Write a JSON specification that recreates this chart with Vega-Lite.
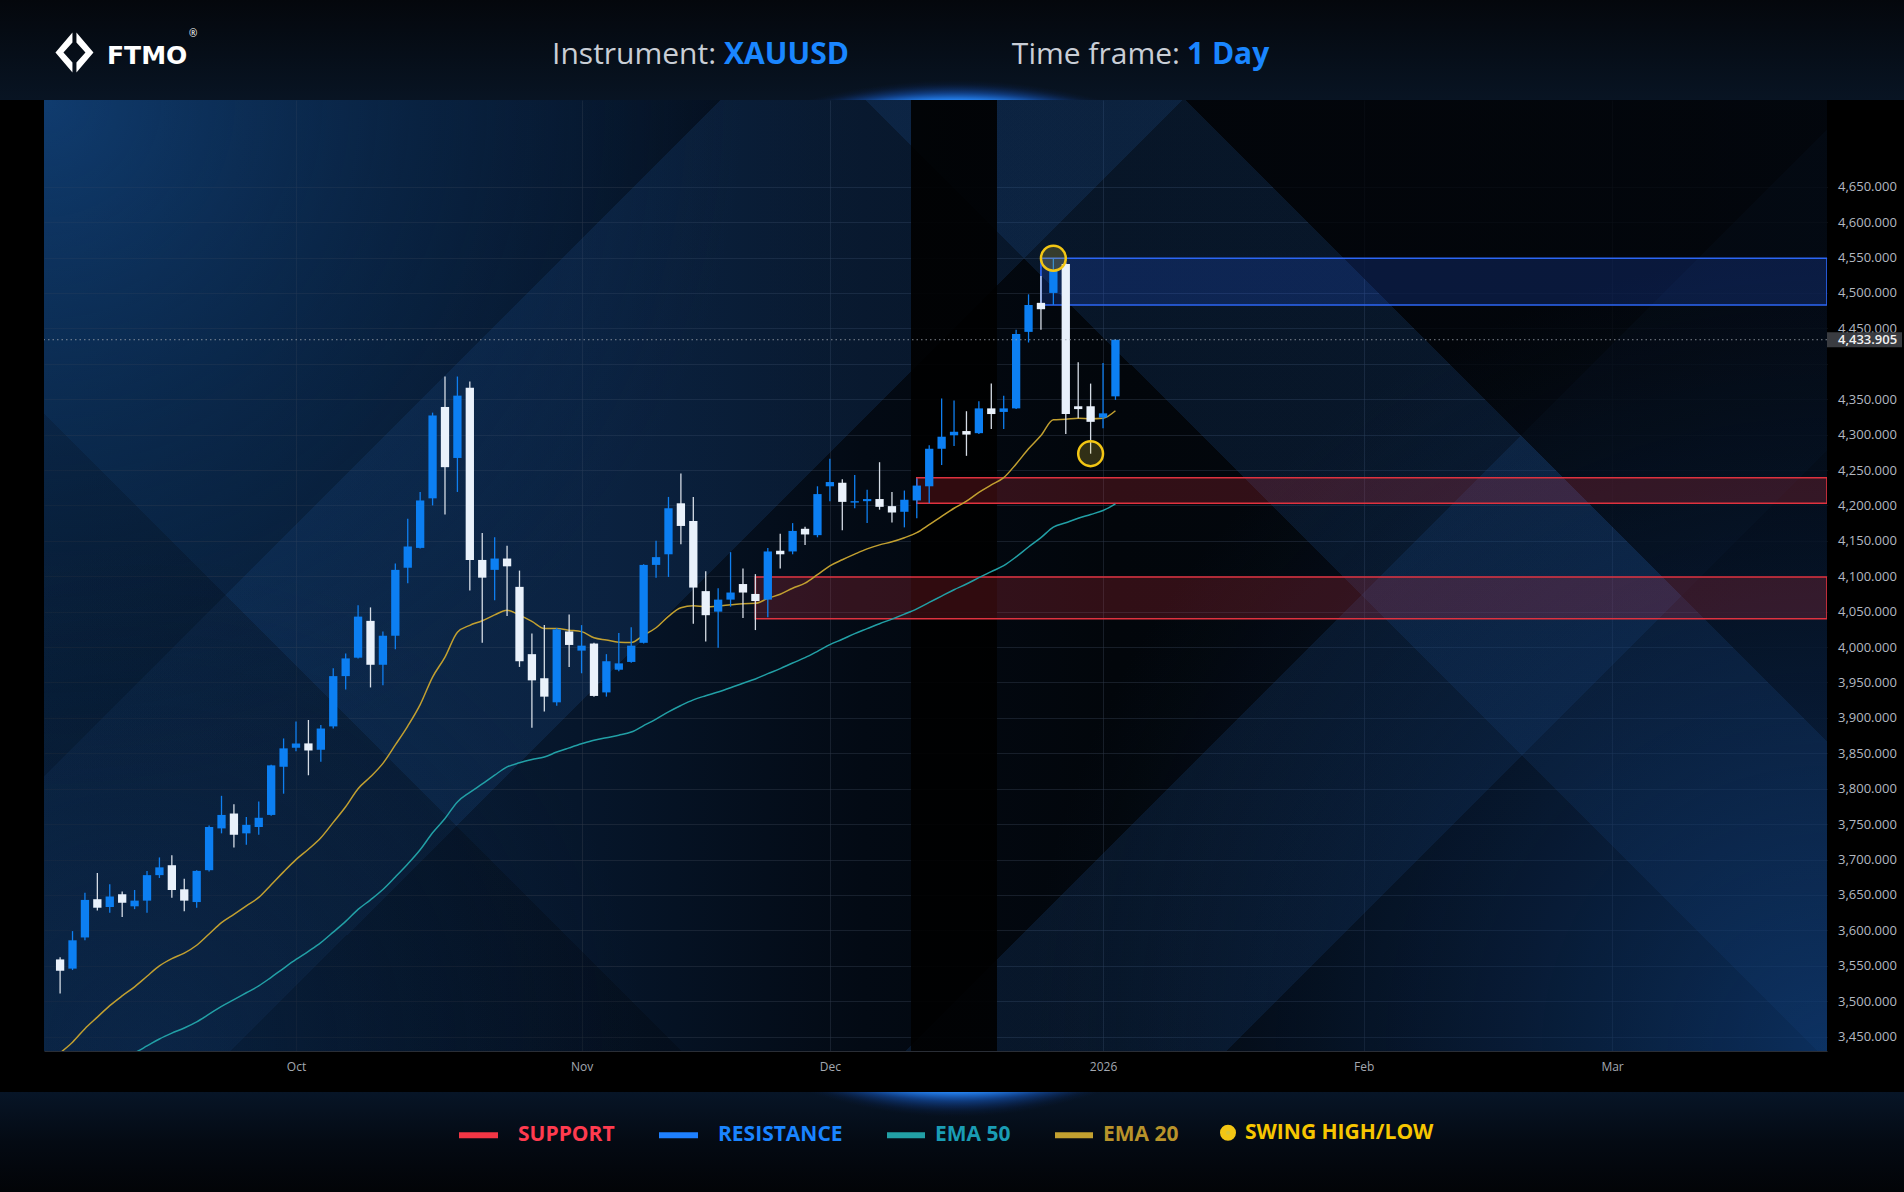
{
  "$schema": "https://vega.github.io/schema/vega-lite/v6.json",
  "background": "#000000",
  "padding": 0,
  "spacing": 0,
  "config": {
    "view": {"stroke": null},
    "text": {"font": "Open Sans"}
  },
  "datasets": {
    "panel": [{}],
    "candles": [
      {"date": "2025-09-04", "i": 0, "open": 3559, "high": 3562, "low": 3511, "close": 3543, "ema20": 3427},
      {"date": "2025-09-05", "i": 1, "open": 3546, "high": 3599, "low": 3544, "close": 3586, "ema20": 3442.1},
      {"date": "2025-09-08", "i": 2, "open": 3590, "high": 3653, "low": 3586, "close": 3643, "ema20": 3461.2},
      {"date": "2025-09-09", "i": 3, "open": 3644, "high": 3681, "low": 3628, "close": 3632, "ema20": 3477.5},
      {"date": "2025-09-10", "i": 4, "open": 3633, "high": 3665, "low": 3625, "close": 3648, "ema20": 3493.7, "ema50": 3409},
      {"date": "2025-09-11", "i": 5, "open": 3651, "high": 3655, "low": 3619, "close": 3639, "ema20": 3507.5, "ema50": 3418.2},
      {"date": "2025-09-12", "i": 6, "open": 3634, "high": 3657, "low": 3630, "close": 3642, "ema20": 3520.3, "ema50": 3427},
      {"date": "2025-09-15", "i": 7, "open": 3642, "high": 3684, "low": 3625, "close": 3678, "ema20": 3535.3, "ema50": 3436.8},
      {"date": "2025-09-16", "i": 8, "open": 3678, "high": 3703, "low": 3674, "close": 3689, "ema20": 3549.9, "ema50": 3446.7},
      {"date": "2025-09-17", "i": 9, "open": 3692, "high": 3706, "low": 3646, "close": 3657, "ema20": 3560.1, "ema50": 3454.9},
      {"date": "2025-09-18", "i": 10, "open": 3658, "high": 3673, "low": 3627, "close": 3642, "ema20": 3567.9, "ema50": 3462.2},
      {"date": "2025-09-19", "i": 11, "open": 3640, "high": 3685, "low": 3632, "close": 3684, "ema20": 3579.0, "ema50": 3470.9},
      {"date": "2025-09-22", "i": 12, "open": 3685, "high": 3748, "low": 3683, "close": 3746, "ema20": 3594.9, "ema50": 3481.7},
      {"date": "2025-09-23", "i": 13, "open": 3744, "high": 3790, "low": 3737, "close": 3763, "ema20": 3610.9, "ema50": 3492.7},
      {"date": "2025-09-24", "i": 14, "open": 3765, "high": 3778, "low": 3717, "close": 3735, "ema20": 3622.7, "ema50": 3502.2},
      {"date": "2025-09-25", "i": 15, "open": 3737, "high": 3760, "low": 3721, "close": 3749, "ema20": 3634.7, "ema50": 3511.9},
      {"date": "2025-09-26", "i": 16, "open": 3746, "high": 3782, "low": 3735, "close": 3759, "ema20": 3646.5, "ema50": 3521.6},
      {"date": "2025-09-29", "i": 17, "open": 3763, "high": 3834, "low": 3762, "close": 3833, "ema20": 3664.3, "ema50": 3533.8},
      {"date": "2025-09-30", "i": 18, "open": 3831, "high": 3871, "low": 3793, "close": 3857, "ema20": 3682.6, "ema50": 3546.5},
      {"date": "2025-10-01", "i": 19, "open": 3858, "high": 3895, "low": 3853, "close": 3864, "ema20": 3699.9, "ema50": 3558.9},
      {"date": "2025-10-02", "i": 20, "open": 3864, "high": 3897, "low": 3819, "close": 3854, "ema20": 3714.6, "ema50": 3570.5},
      {"date": "2025-10-03", "i": 21, "open": 3855, "high": 3890, "low": 3838, "close": 3885, "ema20": 3730.8, "ema50": 3582.8},
      {"date": "2025-10-06", "i": 22, "open": 3888, "high": 3970, "low": 3885, "close": 3959, "ema20": 3752.5, "ema50": 3597.5},
      {"date": "2025-10-07", "i": 23, "open": 3959, "high": 3991, "low": 3940, "close": 3984, "ema20": 3774.5, "ema50": 3612.7},
      {"date": "2025-10-08", "i": 24, "open": 3985, "high": 4059, "low": 3984, "close": 4043, "ema20": 3800.1, "ema50": 3629.6},
      {"date": "2025-10-09", "i": 25, "open": 4037, "high": 4056, "low": 3943, "close": 3975, "ema20": 3816.8, "ema50": 3643.1},
      {"date": "2025-10-10", "i": 26, "open": 3975, "high": 4022, "low": 3946, "close": 4016, "ema20": 3835.8, "ema50": 3657.7},
      {"date": "2025-10-13", "i": 27, "open": 4016, "high": 4118, "low": 3997, "close": 4109, "ema20": 3861.8, "ema50": 3675.4},
      {"date": "2025-10-14", "i": 28, "open": 4112, "high": 4181, "low": 4090, "close": 4142, "ema20": 3888.5, "ema50": 3693.7},
      {"date": "2025-10-15", "i": 29, "open": 4140, "high": 4219, "low": 4139, "close": 4207, "ema20": 3918.8, "ema50": 3713.8},
      {"date": "2025-10-16", "i": 30, "open": 4210, "high": 4331, "low": 4200, "close": 4327, "ema20": 3957.7, "ema50": 3737.8},
      {"date": "2025-10-17", "i": 31, "open": 4339, "high": 4382, "low": 4187, "close": 4254, "ema20": 3985.9, "ema50": 3758.0},
      {"date": "2025-10-20", "i": 32, "open": 4267, "high": 4382, "low": 4219, "close": 4355, "ema20": 4021.0, "ema50": 3781.4},
      {"date": "2025-10-21", "i": 33, "open": 4366, "high": 4375, "low": 4080, "close": 4123, "ema20": 4030.7, "ema50": 3794.8},
      {"date": "2025-10-22", "i": 34, "open": 4123, "high": 4161, "low": 4006, "close": 4098, "ema20": 4037.1, "ema50": 3806.7},
      {"date": "2025-10-23", "i": 35, "open": 4109, "high": 4155, "low": 4066, "close": 4125, "ema20": 4045.5, "ema50": 3819.2},
      {"date": "2025-10-24", "i": 36, "open": 4125, "high": 4143, "low": 4044, "close": 4114, "ema20": 4052.0, "ema50": 3830.8},
      {"date": "2025-10-27", "i": 37, "open": 4085, "high": 4108, "low": 3972, "close": 3980, "ema20": 4045.1, "ema50": 3836.6},
      {"date": "2025-10-28", "i": 38, "open": 3990, "high": 4019, "low": 3886, "close": 3953, "ema20": 4036.3, "ema50": 3841.2},
      {"date": "2025-10-29", "i": 39, "open": 3956, "high": 4031, "low": 3909, "close": 3930, "ema20": 4026.2, "ema50": 3844.7},
      {"date": "2025-10-30", "i": 40, "open": 3922, "high": 4027, "low": 3917, "close": 4025, "ema20": 4026.1, "ema50": 3851.8},
      {"date": "2025-10-31", "i": 41, "open": 4022, "high": 4046, "low": 3972, "close": 4003, "ema20": 4023.9, "ema50": 3857.7},
      {"date": "2025-11-03", "i": 42, "open": 3995, "high": 4031, "low": 3963, "close": 4002, "ema20": 4021.8, "ema50": 3863.4},
      {"date": "2025-11-04", "i": 43, "open": 4005, "high": 4006, "low": 3930, "close": 3931, "ema20": 4013.2, "ema50": 3868.5},
      {"date": "2025-11-05", "i": 44, "open": 3936, "high": 3990, "low": 3930, "close": 3980, "ema20": 4010.0, "ema50": 3872.0},
      {"date": "2025-11-06", "i": 45, "open": 3968, "high": 4020, "low": 3966, "close": 3977, "ema20": 4006.9, "ema50": 3875.5},
      {"date": "2025-11-07", "i": 46, "open": 3979, "high": 4028, "low": 3978, "close": 4002, "ema20": 4006.4, "ema50": 3880.0},
      {"date": "2025-11-10", "i": 47, "open": 4006, "high": 4117, "low": 4005, "close": 4116, "ema20": 4016.8, "ema50": 3889.1},
      {"date": "2025-11-11", "i": 48, "open": 4116, "high": 4150, "low": 4098, "close": 4127, "ema20": 4027.3, "ema50": 3898.4},
      {"date": "2025-11-12", "i": 49, "open": 4131, "high": 4212, "low": 4099, "close": 4196, "ema20": 4043.4, "ema50": 3908.5},
      {"date": "2025-11-13", "i": 50, "open": 4203, "high": 4245, "low": 4145, "close": 4171, "ema20": 4055.5, "ema50": 3917.5},
      {"date": "2025-11-14", "i": 51, "open": 4178, "high": 4212, "low": 4033, "close": 4084, "ema20": 4058.2, "ema50": 3925.5},
      {"date": "2025-11-17", "i": 52, "open": 4079, "high": 4107, "low": 4008, "close": 4045, "ema20": 4056.9, "ema50": 3931.3},
      {"date": "2025-11-18", "i": 53, "open": 4050, "high": 4083, "low": 3999, "close": 4067, "ema20": 4057.9, "ema50": 3936.6},
      {"date": "2025-11-19", "i": 54, "open": 4067, "high": 4134, "low": 4057, "close": 4077, "ema20": 4059.7, "ema50": 3942.6},
      {"date": "2025-11-20", "i": 55, "open": 4089, "high": 4111, "low": 4041, "close": 4077, "ema20": 4061.3, "ema50": 3949.0},
      {"date": "2025-11-21", "i": 56, "open": 4075, "high": 4103, "low": 4024, "close": 4065, "ema20": 4061.7, "ema50": 3955.0},
      {"date": "2025-11-24", "i": 57, "open": 4067, "high": 4140, "low": 4042, "close": 4135, "ema20": 4068.7, "ema50": 3962.5},
      {"date": "2025-11-25", "i": 58, "open": 4136, "high": 4160, "low": 4111, "close": 4131, "ema20": 4074.6, "ema50": 3969.5},
      {"date": "2025-11-26", "i": 59, "open": 4135, "high": 4175, "low": 4131, "close": 4164, "ema20": 4083.1, "ema50": 3977.5},
      {"date": "2025-11-27", "i": 60, "open": 4167, "high": 4170, "low": 4144, "close": 4159, "ema20": 4090.3, "ema50": 3985.0},
      {"date": "2025-11-28", "i": 61, "open": 4158, "high": 4227, "low": 4155, "close": 4216, "ema20": 4102.3, "ema50": 3994.0},
      {"date": "2025-12-01", "i": 62, "open": 4227, "high": 4266, "low": 4206, "close": 4233, "ema20": 4114.7, "ema50": 4003.5},
      {"date": "2025-12-02", "i": 63, "open": 4232, "high": 4237, "low": 4165, "close": 4205, "ema20": 4123.3, "ema50": 4011.0},
      {"date": "2025-12-03", "i": 64, "open": 4204, "high": 4243, "low": 4196, "close": 4206, "ema20": 4131.2, "ema50": 4019.0},
      {"date": "2025-12-04", "i": 65, "open": 4206, "high": 4222, "low": 4175, "close": 4209, "ema20": 4138.6, "ema50": 4026.0},
      {"date": "2025-12-05", "i": 66, "open": 4209, "high": 4261, "low": 4194, "close": 4198, "ema20": 4144.3, "ema50": 4033.0},
      {"date": "2025-12-08", "i": 67, "open": 4199, "high": 4219, "low": 4176, "close": 4190, "ema20": 4148.6, "ema50": 4039.5},
      {"date": "2025-12-09", "i": 68, "open": 4191, "high": 4221, "low": 4169, "close": 4208, "ema20": 4154.4, "ema50": 4046.5},
      {"date": "2025-12-10", "i": 69, "open": 4207, "high": 4238, "low": 4182, "close": 4228, "ema20": 4161.5, "ema50": 4054.0},
      {"date": "2025-12-11", "i": 70, "open": 4227, "high": 4285, "low": 4203, "close": 4280, "ema20": 4172.8, "ema50": 4063.0},
      {"date": "2025-12-12", "i": 71, "open": 4280, "high": 4351, "low": 4257, "close": 4297, "ema20": 4184.6, "ema50": 4072.0},
      {"date": "2025-12-15", "i": 72, "open": 4299, "high": 4348, "low": 4284, "close": 4304, "ema20": 4196.0, "ema50": 4081.0},
      {"date": "2025-12-16", "i": 73, "open": 4305, "high": 4333, "low": 4270, "close": 4300, "ema20": 4205.9, "ema50": 4089.0},
      {"date": "2025-12-17", "i": 74, "open": 4302, "high": 4347, "low": 4301, "close": 4337, "ema20": 4218.4, "ema50": 4098.0},
      {"date": "2025-12-18", "i": 75, "open": 4337, "high": 4372, "low": 4308, "close": 4329, "ema20": 4228.9, "ema50": 4106.5},
      {"date": "2025-12-19", "i": 76, "open": 4332, "high": 4355, "low": 4308, "close": 4337, "ema20": 4239.2, "ema50": 4115.0},
      {"date": "2025-12-22", "i": 77, "open": 4337, "high": 4448, "low": 4336, "close": 4442, "ema20": 4258.5, "ema50": 4127.4},
      {"date": "2025-12-23", "i": 78, "open": 4445, "high": 4498, "low": 4430, "close": 4483, "ema20": 4279.9, "ema50": 4141.3},
      {"date": "2025-12-24", "i": 79, "open": 4486, "high": 4524, "low": 4448, "close": 4477, "ema20": 4298.7, "ema50": 4154.5},
      {"date": "2025-12-26", "i": 80, "open": 4500, "high": 4549, "low": 4483, "close": 4531, "ema20": 4320.8, "ema50": 4169.3},
      {"date": "2025-12-29", "i": 81, "open": 4541, "high": 4543, "low": 4301, "close": 4329, "ema20": 4321.6, "ema50": 4175.6},
      {"date": "2025-12-30", "i": 82, "open": 4340, "high": 4402, "low": 4323, "close": 4336, "ema20": 4323.0, "ema50": 4181.9},
      {"date": "2025-12-31", "i": 83, "open": 4340, "high": 4372, "low": 4273, "close": 4318, "ema20": 4322.5, "ema50": 4187.2},
      {"date": "2026-01-02", "i": 84, "open": 4324, "high": 4401, "low": 4309, "close": 4330, "ema20": 4323.2, "ema50": 4192.8},
      {"date": "2026-01-05", "i": 85, "open": 4354, "high": 4434, "low": 4349, "close": 4433.905, "ema20": 4333.7, "ema50": 4202.3}
    ],
    "zones": [
      {"kind": "SUPPORT", "start": 56, "lo": 4040, "hi": 4099},
      {"kind": "SUPPORT", "start": 69, "lo": 4203, "hi": 4239},
      {"kind": "RESISTANCE", "start": 79, "lo": 4483, "hi": 4549}
    ],
    "swings": [
      {"kind": "SWING HIGH/LOW", "i": 80, "price": 4549},
      {"kind": "SWING HIGH/LOW", "i": 83, "price": 4273}
    ]
  },
  "vconcat": [
    {
      "width": 1904,
      "height": 100,
      "data": {"name": "panel"},
      "layer": [
        {
          "mark": {"type": "rect", "color": {"gradient": "linear", "x1": 0, "y1": 0, "x2": 0, "y2": 1, "stops": [{"offset": 0, "color": "#04070c"}, {"offset": 1, "color": "#081423"}]}},
          "encoding": {}
        },
        {
          "mark": {"type": "rect", "color": {"gradient": "radial", "x1": 0.5016, "y1": 0.8099, "r1": 0, "x2": 0.5016, "y2": 0.8099, "r2": 0.2941, "stops": [{"offset": 0, "color": "rgba(40,140,255,1)"}, {"offset": 0.964, "color": "rgba(40,140,255,0.95)"}, {"offset": 0.978, "color": "rgba(25,105,230,0.45)"}, {"offset": 0.992, "color": "rgba(15,60,150,0.12)"}, {"offset": 1, "color": "rgba(10,40,100,0)"}]}},
          "encoding": {}
        },
        {
          "mark": {"type": "point", "shape": "M2,-20L19,0L2,20L2,10L11,0L2,-10ZM-2,-20L-19,0L-2,20L-2,10L-11,0L-2,-10Z", "size": 4, "filled": true, "color": "#ffffff", "opacity": 1, "yOffset": 2.5},
          "encoding": {"x": {"datum": 0.0391, "type": "quantitative", "scale": {"domain": [0, 1]}, "axis": null}}
        },
        {
          "mark": {"type": "text", "text": "FTMO", "align": "left", "baseline": "alphabetic", "dy": 13.5, "font": "DejaVu Sans", "fontSize": 25, "fontWeight": "bold", "color": "#ffffff"},
          "encoding": {"x": {"datum": 0.0562, "type": "quantitative", "scale": {"domain": [0, 1]}, "axis": null}}
        },
        {
          "mark": {"type": "text", "text": "®", "align": "center", "baseline": "middle", "dy": -16, "fontSize": 10, "color": "#ffffff"},
          "encoding": {"x": {"datum": 0.1015, "type": "quantitative", "scale": {"domain": [0, 1]}, "axis": null}}
        },
        {
          "mark": {"type": "text", "text": "Instrument:", "align": "right", "baseline": "alphabetic", "dy": 14, "fontSize": 30, "color": "#c9ced6"},
          "encoding": {"x": {"datum": 0.3761, "type": "quantitative", "scale": {"domain": [0, 1]}, "axis": null}}
        },
        {
          "mark": {"type": "text", "text": "XAUUSD", "align": "left", "baseline": "alphabetic", "dy": 14, "fontSize": 30, "fontWeight": "bold", "color": "#1a86ff"},
          "encoding": {"x": {"datum": 0.3803, "type": "quantitative", "scale": {"domain": [0, 1]}, "axis": null}}
        },
        {
          "mark": {"type": "text", "text": "Time frame:", "align": "right", "baseline": "alphabetic", "dy": 14, "fontSize": 30, "color": "#c9ced6"},
          "encoding": {"x": {"datum": 0.6197, "type": "quantitative", "scale": {"domain": [0, 1]}, "axis": null}}
        },
        {
          "mark": {"type": "text", "text": "1 Day", "align": "left", "baseline": "alphabetic", "dy": 14, "fontSize": 30, "fontWeight": "bold", "color": "#1a86ff"},
          "encoding": {"x": {"datum": 0.6234, "type": "quantitative", "scale": {"domain": [0, 1]}, "axis": null}}
        }
      ]
    },
    {
      "spacing": 0,
      "hconcat": [
        {
          "width": 43,
          "height": 951,
          "data": {"name": "panel"},
          "mark": {"type": "rect", "color": "#000000"},
          "encoding": {}
        },
        {
          "width": 1783,
          "height": 951,
          "view": {"stroke": null, "fill": {"gradient": "linear", "x1": 0, "y1": 0, "x2": 1, "y2": 0, "stops": [{"offset": 0, "color": "#092442"}, {"offset": 0.3, "color": "#06162b"}, {"offset": 0.46, "color": "#030a14"}, {"offset": 0.6, "color": "#02060b"}, {"offset": 0.85, "color": "#03080f"}, {"offset": 1, "color": "#040b16"}]}},
          "resolve": {"axis": {"x": "independent", "y": "independent"}},
          "layer": [
            {
              "data": {"name": "panel"},
              "mark": {"type": "rect", "color": {"gradient": "linear", "x1": 0, "y1": 0, "x2": 1, "y2": 0.5334, "stops": [{"offset": 0, "color": "rgba(30,85,155,0)"}, {"offset": 0.2954, "color": "rgba(30,85,155,0)"}, {"offset": 0.2954, "color": "rgba(30,85,155,0.2)"}, {"offset": 0.4969, "color": "rgba(30,85,155,0.2)"}, {"offset": 0.4969, "color": "rgba(30,85,155,0)"}, {"offset": 1, "color": "rgba(30,85,155,0)"}]}},
              "encoding": {}
            },
            {
              "data": {"name": "panel"},
              "mark": {"type": "rect", "color": {"gradient": "linear", "x1": 0, "y1": 0, "x2": 1, "y2": -0.5334, "stops": [{"offset": 0, "color": "rgba(30,85,155,0)"}, {"offset": 0.3589, "color": "rgba(30,85,155,0)"}, {"offset": 0.3589, "color": "rgba(30,85,155,0.2)"}, {"offset": 0.4982, "color": "rgba(30,85,155,0.2)"}, {"offset": 0.4982, "color": "rgba(30,85,155,0)"}, {"offset": 1, "color": "rgba(30,85,155,0)"}]}},
              "encoding": {}
            },
            {
              "data": {"name": "panel"},
              "mark": {"type": "rect", "color": {"gradient": "linear", "x1": 0, "y1": 0, "x2": 1, "y2": 0.5334, "stops": [{"offset": 0, "color": "rgba(30,85,155,0)"}, {"offset": 0.7912, "color": "rgba(30,85,155,0)"}, {"offset": 0.7912, "color": "rgba(30,85,155,0.2)"}, {"offset": 0.9317, "color": "rgba(30,85,155,0.2)"}, {"offset": 0.9317, "color": "rgba(30,85,155,0)"}, {"offset": 1, "color": "rgba(30,85,155,0)"}]}},
              "encoding": {}
            },
            {
              "data": {"name": "panel"},
              "mark": {"type": "rect", "color": {"gradient": "linear", "x1": 0, "y1": 0, "x2": 1, "y2": -0.5334, "stops": [{"offset": 0, "color": "rgba(2,5,10,0)"}, {"offset": 0.4982, "color": "rgba(2,5,10,0)"}, {"offset": 0.4982, "color": "rgba(2,5,10,0.78)"}, {"offset": 1, "color": "rgba(2,5,10,0.78)"}]}},
              "encoding": {}
            },
            {
              "data": {"name": "panel"},
              "mark": {"type": "rect", "color": {"gradient": "linear", "x1": -0.5, "y1": 0, "x2": 0.5, "y2": -0.5334, "stops": [{"offset": 0, "color": "rgba(2,6,12,0.3)"}, {"offset": 0.2524, "color": "rgba(2,6,12,0.3)"}, {"offset": 0.2524, "color": "rgba(2,6,12,0)"}, {"offset": 1, "color": "rgba(2,6,12,0)"}]}},
              "encoding": {}
            },
            {
              "data": {"name": "panel"},
              "mark": {"type": "rect", "color": {"gradient": "radial", "x1": 0, "y1": 0.2333, "r1": 0, "x2": 0, "y2": 0.2333, "r2": 0.3926, "stops": [{"offset": 0, "color": "rgba(20,75,140,0.6)"}, {"offset": 0.5, "color": "rgba(14,55,105,0.3)"}, {"offset": 1, "color": "rgba(10,40,80,0)"}]}},
              "encoding": {}
            },
            {
              "data": {"name": "panel"},
              "mark": {"type": "rect", "color": {"gradient": "radial", "x1": 0.0561, "y1": 0.7667, "r1": 0, "x2": 0.0561, "y2": 0.7667, "r2": 0.2804, "stops": [{"offset": 0, "color": "rgba(12,45,90,0.35)"}, {"offset": 1, "color": "rgba(10,35,70,0)"}]}},
              "encoding": {}
            },
            {
              "data": {"name": "panel"},
              "mark": {"type": "rect", "color": {"gradient": "radial", "x1": 1, "y1": 0.7667, "r1": 0, "x2": 1, "y2": 0.7667, "r2": 0.4487, "stops": [{"offset": 0, "color": "rgba(14,58,115,0.75)"}, {"offset": 0.5, "color": "rgba(12,45,90,0.4)"}, {"offset": 1, "color": "rgba(10,35,70,0)"}]}},
              "encoding": {}
            },
            {
              "data": {"name": "panel"},
              "mark": {"type": "rect", "color": {"gradient": "linear", "x1": 0, "y1": 0, "x2": 1, "y2": 0, "stops": [{"offset": 0, "color": "rgba(0,0,0,0)"}, {"offset": 0.486, "color": "rgba(0,0,0,0)"}, {"offset": 0.486, "color": "rgba(0,0,0,0.9)"}, {"offset": 0.5343, "color": "rgba(0,0,0,0.9)"}, {"offset": 0.5343, "color": "rgba(0,0,0,0)"}, {"offset": 1, "color": "rgba(0,0,0,0)"}]}},
              "encoding": {}
            },
            {
              "data": {"name": "zones"},
              "mark": {"type": "rect", "fillOpacity": 0.2, "strokeWidth": 1.6, "clip": true},
              "encoding": {
                "x": {"field": "start", "type": "quantitative", "scale": {"domain": [-1.2967, 142.31], "nice": false, "zero": false, "padding": 0}, "axis": null},
                "x2": {"value": "width"},
                "y": {"field": "hi", "type": "quantitative", "scale": {"domain": [3429.7, 4772.4], "nice": false, "zero": false}, "axis": null},
                "y2": {"field": "lo"},
                "fill": {"field": "kind", "type": "nominal", "scale": {"domain": ["SUPPORT", "RESISTANCE"], "range": ["#f23645", "#2962ff"]}, "legend": null},
                "stroke": {"field": "kind", "type": "nominal", "scale": {"domain": ["SUPPORT", "RESISTANCE"], "range": ["#e0323f", "#2c66f5"]}, "legend": null}
              }
            },
            {
              "data": {"name": "candles"},
              "mark": {"type": "line", "strokeWidth": 1.5, "clip": true, "interpolate": "monotone"},
              "encoding": {
                "x": {"field": "i", "type": "quantitative", "scale": {"domain": [-1.2967, 142.31], "nice": false, "zero": false, "padding": 0}, "axis": null},
                "y": {"field": "ema50", "type": "quantitative", "scale": {"domain": [3429.7, 4772.4], "nice": false, "zero": false}, "axis": null},
                "color": {
                  "datum": "EMA 50", "type": "nominal",
                  "scale": {"domain": ["SUPPORT", "RESISTANCE", "EMA 50", "EMA 20", "SWING HIGH/LOW"], "range": ["#f23645", "#1e80ff", "#22a0a6", "#c2a030", "#f3c614"]},
                  "legend": {
                    "title": null, "orient": "none", "legendX": 490.5, "legendY": 1122, "direction": "horizontal",
                    "columnPadding": 31, "padding": 0, "symbolSize": 4, "symbolStrokeWidth": 6, "symbolOpacity": 1,
                    "symbolType": {"expr": "datum.label == 'SWING HIGH/LOW' ? 'M-5,0A5,5 0 1,1 5,0A5,5 0 1,1 -5,0Z' : (datum.label == 'EMA 50' || datum.label == 'EMA 20') ? 'M-31,0L7,0' : 'M-42,0L-3,0'"},
                    "labelColor": {"expr": "datum.label == 'SUPPORT' ? '#ff3b4f' : datum.label == 'RESISTANCE' ? '#1a84ff' : datum.label == 'EMA 50' ? '#1a9cb4' : datum.label == 'EMA 20' ? '#b8932a' : '#f7c600'"},
                    "labelFont": "Open Sans", "labelFontSize": 21, "labelFontWeight": "bold", "labelOffset": 6.5, "labelLimit": 400
                  }
                }
              }
            },
            {
              "data": {"name": "candles"},
              "mark": {"type": "line", "strokeWidth": 1.5, "clip": true, "interpolate": "monotone"},
              "encoding": {
                "x": {"field": "i", "type": "quantitative", "scale": {"domain": [-1.2967, 142.31], "nice": false, "zero": false, "padding": 0}, "axis": null},
                "y": {"field": "ema20", "type": "quantitative", "scale": {"domain": [3429.7, 4772.4], "nice": false, "zero": false}, "axis": null},
                "color": {
                  "datum": "EMA 20", "type": "nominal",
                  "scale": {"domain": ["SUPPORT", "RESISTANCE", "EMA 50", "EMA 20", "SWING HIGH/LOW"], "range": ["#f23645", "#1e80ff", "#22a0a6", "#c2a030", "#f3c614"]},
                  "legend": {
                    "title": null, "orient": "none", "legendX": 490.5, "legendY": 1122, "direction": "horizontal",
                    "columnPadding": 31, "padding": 0, "symbolSize": 4, "symbolStrokeWidth": 6, "symbolOpacity": 1,
                    "symbolType": {"expr": "datum.label == 'SWING HIGH/LOW' ? 'M-5,0A5,5 0 1,1 5,0A5,5 0 1,1 -5,0Z' : (datum.label == 'EMA 50' || datum.label == 'EMA 20') ? 'M-31,0L7,0' : 'M-42,0L-3,0'"},
                    "labelColor": {"expr": "datum.label == 'SUPPORT' ? '#ff3b4f' : datum.label == 'RESISTANCE' ? '#1a84ff' : datum.label == 'EMA 50' ? '#1a9cb4' : datum.label == 'EMA 20' ? '#b8932a' : '#f7c600'"},
                    "labelFont": "Open Sans", "labelFontSize": 21, "labelFontWeight": "bold", "labelOffset": 6.5, "labelLimit": 400
                  }
                }
              }
            },
            {
              "data": {"name": "candles"},
              "mark": {"type": "rule", "strokeWidth": 1.3},
              "encoding": {
                "x": {"field": "i", "type": "quantitative", "scale": {"domain": [-1.2967, 142.31], "nice": false, "zero": false, "padding": 0}, "axis": null},
                "y": {"field": "low", "type": "quantitative", "scale": {"domain": [3429.7, 4772.4], "nice": false, "zero": false}, "axis": null},
                "y2": {"field": "high"},
                "stroke": {"condition": {"test": "datum.close >= datum.open", "value": "#0f7ff0"}, "value": "#d5dce5"}
              }
            },
            {
              "data": {"name": "candles"},
              "mark": {"type": "bar", "width": 8.3},
              "encoding": {
                "x": {"field": "i", "type": "quantitative", "scale": {"domain": [-1.2967, 142.31], "nice": false, "zero": false, "padding": 0},
                      "axis": {"values": [19, 42, 62, 84, 105, 125],
                               "labelExpr": "datum.value == 19 ? 'Oct' : datum.value == 42 ? 'Nov' : datum.value == 62 ? 'Dec' : datum.value == 84 ? '2026' : datum.value == 105 ? 'Feb' : 'Mar'",
                               "title": null, "grid": true, "gridColor": "#2b3546", "gridOpacity": 0.5, "ticks": false,
                               "domain": true, "domainColor": "#2a2e36", "labelColor": "#a3a8b1", "labelFont": "Open Sans",
                               "labelFontSize": 12, "labelPadding": 10, "labelFlush": false, "minExtent": 41, "maxExtent": 41}},
                "y": {"field": "open", "type": "quantitative", "scale": {"domain": [3429.7, 4772.4], "nice": false, "zero": false},
                      "axis": {"orient": "right", "values": [3450, 3500, 3550, 3600, 3650, 3700, 3750, 3800, 3850, 3900, 3950, 4000, 4050, 4100, 4150, 4200, 4250, 4300, 4350, 4400, 4450, 4500, 4550, 4600, 4650],
                               "labelExpr": "datum.value == 4400 ? '' : format(datum.value, ',.3f')",
                               "title": null, "grid": true, "gridColor": "#2b3546", "gridOpacity": 0.5, "ticks": false, "domain": false,
                               "labelColor": "#b3b8c0", "labelFont": "Open Sans", "labelFontSize": 13, "labelPadding": 10.5,
                               "labelOverlap": false, "labelFlush": false, "minExtent": 78, "maxExtent": 78}},
                "y2": {"field": "close"},
                "fill": {"condition": {"test": "datum.close >= datum.open", "value": "#0c7ff2"}, "value": "#e9f1fb"}
              }
            },
            {
              "data": {"name": "candles"},
              "transform": [{"filter": "datum.i == 85"}],
              "mark": {"type": "rule", "strokeDash": [1.5, 3], "strokeWidth": 1, "color": "#a3a8b0", "opacity": 0.8},
              "encoding": {
                "y": {"field": "close", "type": "quantitative", "scale": {"domain": [3429.7, 4772.4], "nice": false, "zero": false}, "axis": null}
              }
            },
            {
              "data": {"name": "swings"},
              "mark": {"type": "point", "size": 616, "strokeWidth": 2.5, "filled": false, "fill": "#d9c63a", "fillOpacity": 0.22, "opacity": 1},
              "encoding": {
                "x": {"field": "i", "type": "quantitative", "scale": {"domain": [-1.2967, 142.31], "nice": false, "zero": false, "padding": 0}, "axis": null},
                "y": {"field": "price", "type": "quantitative", "scale": {"domain": [3429.7, 4772.4], "nice": false, "zero": false}, "axis": null},
                "color": {
                  "field": "kind", "type": "nominal",
                  "scale": {"domain": ["SUPPORT", "RESISTANCE", "EMA 50", "EMA 20", "SWING HIGH/LOW"], "range": ["#f23645", "#1e80ff", "#22a0a6", "#c2a030", "#f3c614"]},
                  "legend": {
                    "title": null, "orient": "none", "legendX": 490.5, "legendY": 1122, "direction": "horizontal",
                    "columnPadding": 31, "padding": 0, "symbolSize": 4, "symbolStrokeWidth": 6, "symbolOpacity": 1,
                    "symbolType": {"expr": "datum.label == 'SWING HIGH/LOW' ? 'M-5,0A5,5 0 1,1 5,0A5,5 0 1,1 -5,0Z' : (datum.label == 'EMA 50' || datum.label == 'EMA 20') ? 'M-31,0L7,0' : 'M-42,0L-3,0'"},
                    "labelColor": {"expr": "datum.label == 'SUPPORT' ? '#ff3b4f' : datum.label == 'RESISTANCE' ? '#1a84ff' : datum.label == 'EMA 50' ? '#1a9cb4' : datum.label == 'EMA 20' ? '#b8932a' : '#f7c600'"},
                    "labelFont": "Open Sans", "labelFontSize": 21, "labelFontWeight": "bold", "labelOffset": 6.5, "labelLimit": 400
                  }
                }
              }
            },
            {
              "data": {"name": "candles"},
              "transform": [{"filter": "datum.i == 85"}],
              "mark": {"type": "point", "shape": "M0,-7.5H75V7.5H0Z", "size": 4, "filled": true, "color": "#3a3c41", "opacity": 1},
              "encoding": {
                "x": {"value": "width"},
                "y": {"field": "close", "type": "quantitative", "scale": {"domain": [3429.7, 4772.4], "nice": false, "zero": false}, "axis": null}
              }
            },
            {
              "data": {"name": "candles"},
              "transform": [{"filter": "datum.i == 85"}],
              "mark": {"type": "text", "align": "left", "baseline": "middle", "dx": 11, "fontSize": 13, "font": "Open Sans", "fontWeight": 600, "color": "#f2f2f2"},
              "encoding": {
                "x": {"value": "width"},
                "y": {"field": "close", "type": "quantitative", "scale": {"domain": [3429.7, 4772.4], "nice": false, "zero": false}, "axis": null},
                "text": {"field": "close", "type": "quantitative", "format": ",.3f"}
              }
            }
          ]
        }
      ]
    },
    {
      "width": 1904,
      "height": 100,
      "data": {"name": "panel"},
      "layer": [
        {
          "mark": {"type": "rect", "color": {"gradient": "linear", "x1": 0, "y1": 0, "x2": 0, "y2": 1, "stops": [{"offset": 0, "color": "#071527"}, {"offset": 0.5, "color": "#040a13"}, {"offset": 1, "color": "#020407"}]}},
          "encoding": {}
        },
        {
          "mark": {"type": "rect", "color": {"gradient": "radial", "x1": 0.5016, "y1": 0.2505, "r1": 0, "x2": 0.5016, "y2": 0.2505, "r2": 0.2363, "stops": [{"offset": 0, "color": "rgba(40,140,255,1)"}, {"offset": 0.944, "color": "rgba(40,140,255,0.95)"}, {"offset": 0.965, "color": "rgba(25,105,230,0.45)"}, {"offset": 0.988, "color": "rgba(15,60,150,0.12)"}, {"offset": 1, "color": "rgba(10,40,100,0)"}]}},
          "encoding": {}
        }
      ]
    }
  ]
}
